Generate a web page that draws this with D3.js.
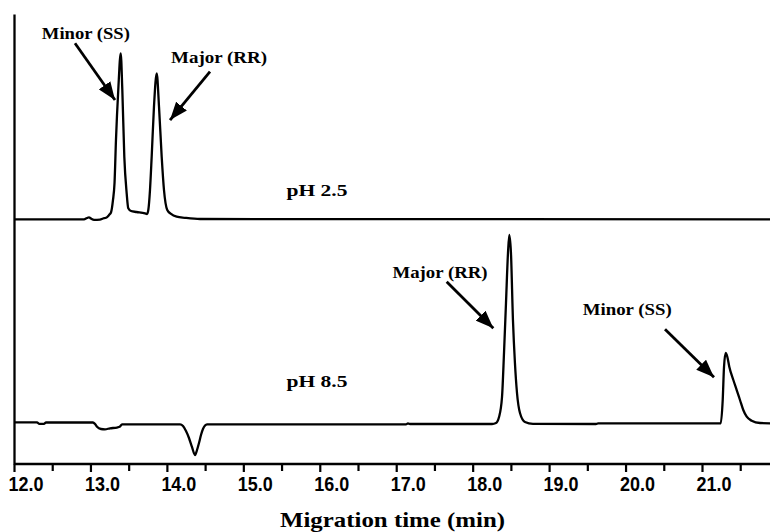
<!DOCTYPE html>
<html>
<head>
<meta charset="utf-8">
<script src="https://cdn.jsdelivr.net/npm/d3@7"></script>
<style>
  html, body { margin: 0; padding: 0; background: #fff; }
  svg { display: block; }
</style>
</head>
<body>
<svg id="chart" width="770" height="532"></svg>
<script>
// ---------- DATA ----------
// Migration time (min) and detector signal (arbitrary units) for both electropherograms
const pH25Time = [12.000, 12.916, 12.955, 12.981, 13.007, 13.047, 13.125, 13.164, 13.204, 13.243, 13.269, 13.295, 13.315, 13.334, 13.364, 13.396, 13.417, 13.443, 13.474, 13.495, 13.531, 13.605, 13.714, 13.740, 13.757, 13.779, 13.801, 13.831, 13.867, 13.897, 13.932, 13.962, 14.005, 14.054, 14.128, 14.237, 14.433, 21.890];
const pH25Signal = [54.38, 54.38, 54.67, 54.82, 54.56, 54.27, 54.31, 54.56, 54.71, 55.33, 55.89, 58.67, 62.44, 72.00, 83.11, 91.27, 83.11, 68.29, 60.16, 56.82, 56.22, 56.00, 55.67, 55.56, 56.44, 60.89, 68.29, 79.40, 86.82, 79.40, 68.29, 60.89, 56.44, 55.56, 54.96, 54.71, 54.44, 54.38];

const pH85Time = [12.000, 12.301, 12.327, 12.392, 12.419, 13.033, 13.060, 13.086, 13.138, 13.190, 13.256, 13.347, 13.387, 13.413, 14.172, 14.211, 14.250, 14.289, 14.328, 14.368, 14.394, 14.420, 14.446, 14.472, 14.499, 14.525, 17.128, 17.154, 17.180, 18.253, 18.305, 18.345, 18.384, 18.410, 18.436, 18.462, 18.479, 18.501, 18.527, 18.553, 18.580, 18.619, 18.684, 18.789, 19.613, 19.640, 21.245, 21.271, 21.288, 21.310, 21.331, 21.357, 21.410, 21.454, 21.497, 21.540, 21.585, 21.650, 21.759, 21.890];
const pH85Signal = [9.27, 9.27, 8.93, 8.93, 9.22, 9.22, 8.89, 8.29, 7.78, 7.71, 7.93, 8.11, 8.33, 8.82, 8.82, 8.44, 7.33, 5.78, 3.78, 2.00, 3.11, 4.67, 6.44, 7.78, 8.56, 8.82, 8.82, 9.04, 8.89, 8.89, 9.11, 10.44, 14.89, 24.67, 35.78, 46.89, 50.89, 46.89, 32.00, 22.44, 15.78, 11.33, 9.33, 8.93, 8.89, 9.04, 9.04, 14.22, 21.56, 24.67, 23.84, 21.62, 18.67, 16.44, 14.22, 12.00, 10.51, 9.62, 9.11, 9.04];

// Axis ticks
const majorTicks = [12, 13, 14, 15, 16, 17, 18, 19, 20, 21];
const minorTicks = [12.5, 13.5, 14.5, 15.5, 16.5, 17.5, 18.5, 19.5, 20.5, 21.5];
const tickLabels = ["12.0", "13.0", "14.0", "15.0", "16.0", "17.0", "18.0", "19.0", "20.0", "21.0"];

// Annotations (anchored in data units: time, signal)
const labelTexts = ["Minor (SS)", "Major (RR)", "pH 2.5", "Major (RR)", "Minor (SS)", "pH 8.5"];
const labelTime = [12.940, 14.682, 15.964, 17.573, 20.022, 15.964];
const labelSignal = [94.44, 89.22, 59.56, 41.44, 33.11, 17.18];

const arrowTailTime = [12.798, 14.564, 17.660, 20.516];
const arrowTailSignal = [93.49, 87.18, 40.51, 29.93];
const arrowTipTime = [13.321, 14.041, 18.270, 21.157];
const arrowTipSignal = [80.89, 76.44, 30.16, 19.27];

const xTitle = "Migration time (min)";

// ---------- STYLE / LAYOUT ----------
const labelWidths = [88, 96, 61, 95, 89, 61];
const W = 770, H = 532;
const plotLeft = 14, plotTop = 14, plotBottom = 464;
const pxPerMin = 76.444;

const svg = d3.select("#chart");

const x = d3.scaleLinear().domain([12, 21.9]).range([plotLeft, plotLeft + 9.9 * pxPerMin]);
const y = d3.scaleLinear().domain([0, 100]).range([plotBottom, plotTop]);

// Traces
const line = d3.line()
  .x(d => x(d[0]))
  .y(d => y(d[1]))
  .curve(d3.curveMonotoneX);

const series = [
  d3.zip(pH25Time, pH25Signal),
  d3.zip(pH85Time, pH85Signal)
];

svg.append("g").selectAll("path")
  .data(series)
  .join("path")
  .attr("d", line)
  .attr("fill", "none")
  .attr("stroke", "#000")
  .attr("stroke-width", 2.3)
  .attr("stroke-linejoin", "round");

// X axis (major ticks, minor ticks)
const xAxis = svg.append("g").attr("transform", `translate(0,${plotBottom})`);
xAxis.call(d3.axisBottom(x).tickValues(majorTicks).tickSize(8).tickFormat(""));
xAxis.select(".domain").attr("d", `M${plotLeft},0H${W + 2}`).attr("stroke-width", 2.3);
xAxis.selectAll(".tick line").attr("stroke-width", 2.2);

const xMinor = svg.append("g").attr("transform", `translate(0,${plotBottom})`);
xMinor.call(d3.axisBottom(x).tickValues(minorTicks).tickSize(7).tickFormat(""));
xMinor.select(".domain").remove();
xMinor.selectAll(".tick line").attr("stroke-width", 2.2);

svg.append("g").selectAll("text")
  .data(majorTicks)
  .join("text")
  .attr("x", d => x(d) + 12)
  .attr("y", 490.5)
  .attr("text-anchor", "middle")
  .attr("font-family", "'Liberation Sans', Arial, Helvetica, sans-serif")
  .attr("font-weight", "bold")
  .attr("font-size", 20)
  .attr("textLength", 35)
  .attr("lengthAdjust", "spacingAndGlyphs")
  .text((d, i) => tickLabels[i]);

// Y axis (plain line)
const yAxis = svg.append("g").attr("transform", `translate(${plotLeft},0)`);
yAxis.call(d3.axisLeft(y).tickValues([]).tickSizeOuter(0));
yAxis.select(".domain").attr("stroke-width", 2.3);

// X title
svg.append("text")
  .attr("x", 392.5)
  .attr("y", 526.5)
  .attr("text-anchor", "middle")
  .attr("font-family", "'Liberation Serif', 'Times New Roman', Times, serif")
  .attr("font-weight", "bold")
  .attr("font-size", 21)
  .attr("textLength", 225)
  .attr("lengthAdjust", "spacingAndGlyphs")
  .text(xTitle);

// Annotation labels
svg.append("g").selectAll("text")
  .data(labelTexts)
  .join("text")
  .attr("x", (d, i) => x(labelTime[i]))
  .attr("y", (d, i) => y(labelSignal[i]))
  .attr("text-anchor", "middle")
  .attr("font-family", "'Liberation Serif', 'Times New Roman', Times, serif")
  .attr("font-weight", "bold")
  .attr("font-size", 17.5)
  .attr("textLength", (d, i) => labelWidths[i])
  .attr("lengthAdjust", "spacingAndGlyphs")
  .text(d => d);

// Arrows
svg.append("defs").append("marker")
  .attr("id", "arrowhead")
  .attr("viewBox", "0 0 18 14")
  .attr("refX", 18)
  .attr("refY", 7)
  .attr("markerWidth", 18)
  .attr("markerHeight", 14)
  .attr("markerUnits", "userSpaceOnUse")
  .attr("orient", "auto")
  .append("path")
  .attr("d", "M0,0L18,7L0,14Z")
  .attr("fill", "#000");

svg.append("g").selectAll("line")
  .data(arrowTailTime)
  .join("line")
  .attr("x1", (d, i) => x(arrowTailTime[i]))
  .attr("y1", (d, i) => y(arrowTailSignal[i]))
  .attr("x2", (d, i) => x(arrowTipTime[i]))
  .attr("y2", (d, i) => y(arrowTipSignal[i]))
  .attr("stroke", "#000")
  .attr("stroke-width", 2.8)
  .attr("marker-end", "url(#arrowhead)");
</script>
</body>
</html>
